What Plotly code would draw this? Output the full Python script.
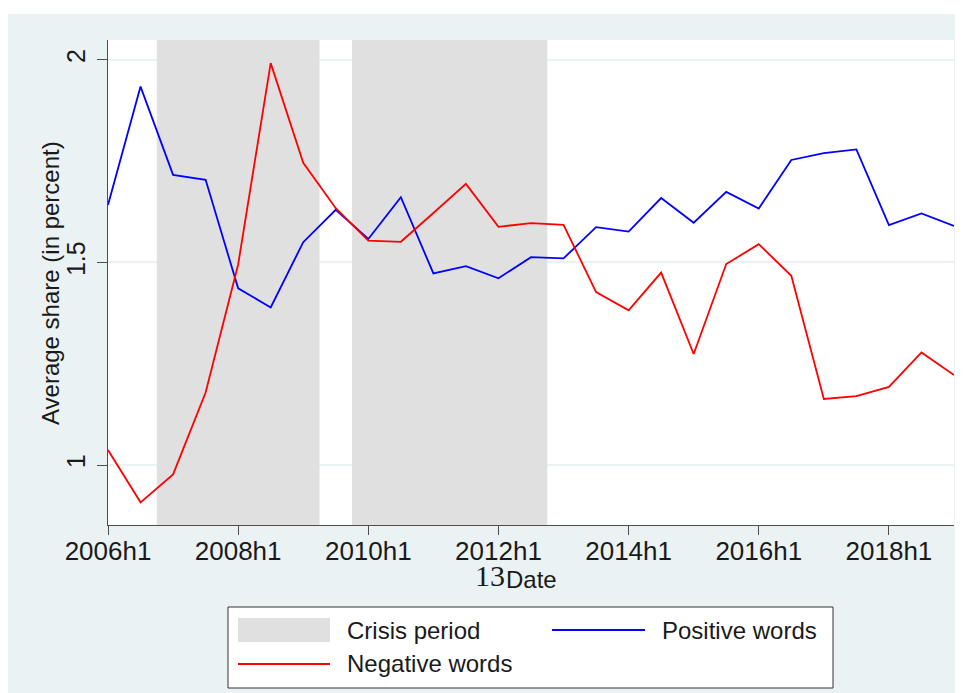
import plotly.graph_objects as go

dates = ["2006h1", "2006h2", "2007h1", "2007h2", "2008h1", "2008h2", "2009h1", "2009h2",
         "2010h1", "2010h2", "2011h1", "2011h2", "2012h1", "2012h2", "2013h1", "2013h2",
         "2014h1", "2014h2", "2015h1", "2015h2", "2016h1", "2016h2", "2017h1", "2017h2",
         "2018h1", "2018h2", "2019h1"]
positive = [1.642, 1.934, 1.716, 1.704, 1.436, 1.389, 1.550, 1.630, 1.558, 1.661, 1.473,
            1.491, 1.461, 1.513, 1.510, 1.587, 1.576, 1.659, 1.598, 1.674, 1.633, 1.753,
            1.770, 1.779, 1.592, 1.621, 1.590]
negative = [1.037, 0.908, 0.977, 1.179, 1.495, 1.992, 1.746, 1.634, 1.554, 1.551, 1.622,
            1.694, 1.588, 1.597, 1.593, 1.427, 1.382, 1.475, 1.274, 1.496, 1.545, 1.467,
            1.163, 1.170, 1.193, 1.278, 1.222]
crisis = [0, 0, 1, 1, 1, 1, 1, 0, 1, 1, 1, 1, 1, 1, 0, 0, 0, 0, 0, 0, 0, 0, 0, 0, 0, 0, 0]
x_tick_labels = ["2006h1", "2008h1", "2010h1", "2012h1", "2014h1", "2016h1", "2018h1"]
y_ticks = [1, 1.5, 2]
y_tick_labels = ["1", "1.5", "2"]

BG = "#eaf2f3"
FONT = "Liberation Sans, Arial, sans-serif"
YMIN, YMAX = 0.852, 2.049

xs = list(range(len(dates)))
tickvals = [dates.index(d) for d in x_tick_labels]

# crisis shading polygons from runs of flagged half-years
cx, cy = [], []
i = 0
while i < len(crisis):
    if crisis[i]:
        j = i
        while j + 1 < len(crisis) and crisis[j + 1]:
            j += 1
        a, b = xs[i] - 0.5, xs[j] + 0.5
        cx += [a, a, b, b, a, None]
        cy += [YMIN, YMAX, YMAX, YMIN, YMIN, None]
        i = j + 1
    else:
        i += 1

fig = go.Figure()
fig.add_trace(go.Scatter(x=cx, y=cy, mode="none", fill="toself", fillcolor="#e0e0e0",
                         name="Crisis period", showlegend=False, hoverinfo="skip"))
fig.add_trace(go.Scatter(x=xs, y=positive, mode="lines", name="Positive words",
                         line=dict(color="#0000ff", width=1.8), showlegend=False))
fig.add_trace(go.Scatter(x=xs, y=negative, mode="lines", name="Negative words",
                         line=dict(color="#ff0000", width=1.8), showlegend=False))

OFF = 8  # page body margin
W, H = 963 - OFF, 693 - OFF
L, R, T, B = 108 - OFF, 9, 40 - OFF, 168
pw, ph = W - L - R, H - T - B


def px(x):
    return (x - OFF - L) / pw


def py(y):
    return (H - B - (y - OFF)) / ph


shapes = [
    # white strip above the light background
    dict(type="rect", xref="paper", yref="paper", x0=-0.3, x1=1.2, y0=py(14), y1=1.3,
         fillcolor="white", line=dict(width=0), layer="below"),
    # legend box
    dict(type="rect", xref="paper", yref="paper", x0=px(228), x1=px(833), y0=py(688), y1=py(607),
         fillcolor="white", line=dict(color="#333333", width=1)),
    dict(type="rect", xref="paper", yref="paper", x0=px(238), x1=px(330), y0=py(642), y1=py(618),
         fillcolor="#e0e0e0", line=dict(width=0)),
    dict(type="line", xref="paper", yref="paper", x0=px(552), x1=px(645), y0=py(630), y1=py(630),
         line=dict(color="#0000ff", width=1.8)),
    dict(type="line", xref="paper", yref="paper", x0=px(238), x1=px(330), y0=py(664), y1=py(664),
         line=dict(color="#ff0000", width=1.8)),
]

annotations = [
    dict(text="Average share (in percent)", xref="paper", yref="paper", x=px(50), y=py(283),
         textangle=-90, showarrow=False, font=dict(size=24, color="#1a1a1a", family=FONT),
         xanchor="center", yanchor="middle"),
    dict(text="13", xref="paper", yref="paper", x=px(490), y=py(575), showarrow=False,
         font=dict(size=30, color="#1a1a1a", family="Liberation Serif, Times New Roman, serif"),
         xanchor="center", yanchor="middle", borderpad=0),
    dict(text="Date", xref="paper", yref="paper", x=px(531), y=py(579), showarrow=False,
         font=dict(size=24, color="#1a1a1a", family=FONT), xanchor="center", yanchor="middle"),
    dict(text="Crisis period", xref="paper", yref="paper", x=px(345), y=py(630), showarrow=False,
         font=dict(size=24, color="#1a1a1a", family=FONT), xanchor="left", yanchor="middle"),
    dict(text="Positive words", xref="paper", yref="paper", x=px(660), y=py(630), showarrow=False,
         font=dict(size=24, color="#1a1a1a", family=FONT), xanchor="left", yanchor="middle"),
    dict(text="Negative words", xref="paper", yref="paper", x=px(345), y=py(664), showarrow=False,
         font=dict(size=24, color="#1a1a1a", family=FONT), xanchor="left", yanchor="middle"),
]

fig.update_layout(
    width=W, height=H,
    margin=dict(l=L, r=R, t=T, b=B),
    paper_bgcolor=BG, plot_bgcolor="white",
    showlegend=False,
    shapes=shapes, annotations=annotations,
    font=dict(family=FONT, size=24, color="#1a1a1a"),
)
fig.update_xaxes(range=[0, len(dates) - 1], tickvals=tickvals, ticktext=x_tick_labels,
                 showgrid=False, zeroline=False, showline=True, linecolor="#4d4d4d", linewidth=1.2,
                 ticks="outside", ticklen=9, tickwidth=1.2, tickcolor="#4d4d4d",
                 ticklabelstandoff=-6,
                 tickfont=dict(size=26, color="#1a1a1a", family=FONT))
fig.update_yaxes(range=[YMIN, YMAX], tickvals=y_ticks, ticktext=y_tick_labels, tickangle=-90,
                 showgrid=True, gridcolor=BG, gridwidth=1.5, zeroline=False,
                 showline=True, linecolor="#4d4d4d", linewidth=1.2,
                 ticks="outside", ticklen=10, tickwidth=1.2, tickcolor="#4d4d4d",
                 ticklabelstandoff=2,
                 tickfont=dict(size=25, color="#1a1a1a", family=FONT))

fig.write_html("out.html")
